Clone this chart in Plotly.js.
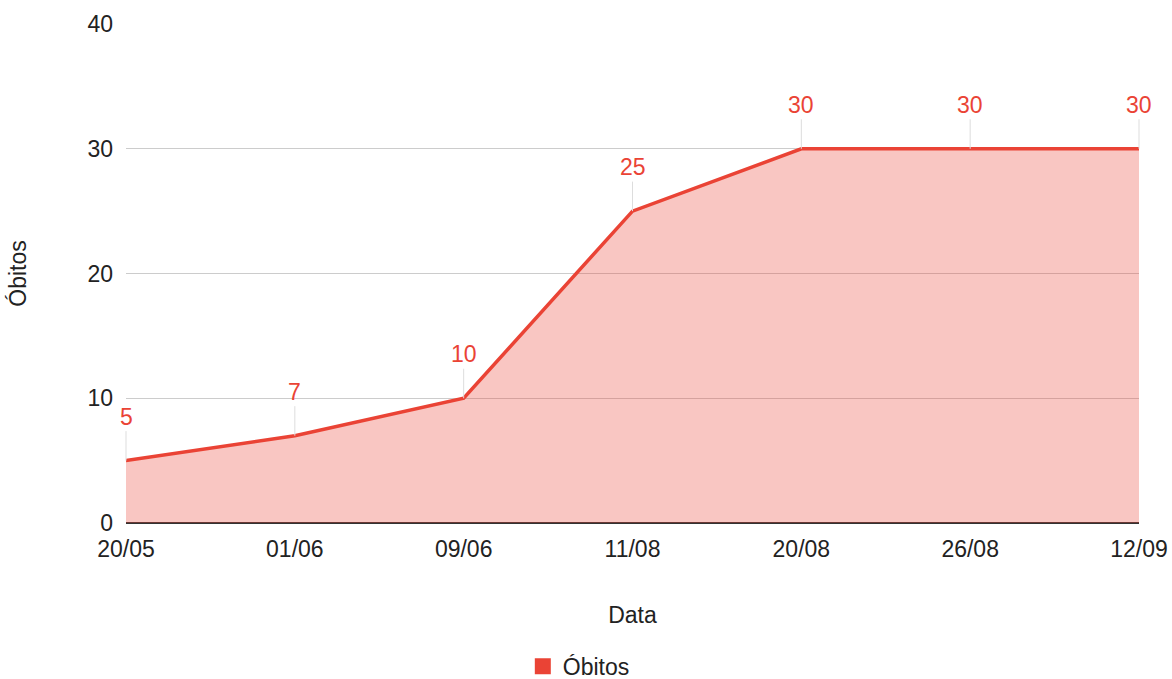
<!DOCTYPE html>
<html>
<head>
<meta charset="utf-8">
<script src="https://cdn.plot.ly/plotly-3.0.1.min.js"></script>
<style>html,body{margin:0;padding:0;background:#fff;}#chart{width:1172px;height:679px;}</style>
</head>
<body>
<div id="chart"></div>
<script>
const categories = ["20/05", "01/06", "09/06", "11/08", "20/08", "26/08", "12/09"];
const obitos = [5, 7, 10, 25, 30, 30, 30];
const yTicks = [0, 10, 20, 30, 40];

const red = "#ea4335";
const font = "'Liberation Sans', Arial, sans-serif";
const fs = 23;

const trace = {
  x: categories,
  y: obitos,
  type: "scatter",
  mode: "lines",
  name: "Óbitos",
  showlegend: false,
  line: {color: red, width: 3.5},
  fill: "tozeroy",
  fillcolor: "rgba(234,67,53,0.3)"
};

const legendTrace = {
  x: [categories[0]],
  y: [null],
  type: "scatter",
  mode: "markers",
  name: "Óbitos",
  marker: {symbol: "square", size: 24, color: red}
};

const annotations = categories.map((c, i) => ({
  x: c, y: obitos[i], xref: "x", yref: "y",
  text: String(obitos[i]),
  showarrow: true, arrowhead: 0, arrowwidth: 1, arrowcolor: "#dddddd",
  ax: 0, ay: -44, standoff: 0,
  font: {family: font, size: fs, color: red}
}));

const layout = {
  width: 1172, height: 679,
  margin: {l: 126, r: 33, t: 24, b: 156, autoexpand: false},
  paper_bgcolor: "#fff", plot_bgcolor: "#fff",
  showlegend: true,
  legend: {orientation: "h", x: 0.447, xanchor: "center", y: -0.287, yanchor: "middle",
           font: {family: font, size: fs, color: "#222"}},
  xaxis: {
    type: "category", range: [0, categories.length - 1],
    showgrid: false, showline: false, zeroline: false, automargin: false,
    ticks: "", ticklabelstandoff: 10, tickfont: {family: font, size: fs, color: "#222"},
    title: {text: "Data", font: {family: font, size: fs, color: "#222"}, standoff: 45}
  },
  yaxis: {
    range: [0, 40], tickvals: yTicks, ticktext: yTicks.map(String),
    showgrid: true, gridcolor: "#cccccc", gridwidth: 1, automargin: false,
    zeroline: true, zerolinecolor: "#333333", zerolinewidth: 2,
    showline: false, ticks: "", ticklabelstandoff: 12,
    tickfont: {family: font, size: fs, color: "#222"},
    title: {text: "Óbitos", font: {family: font, size: fs, color: "#222"}, standoff: 54}
  },
  annotations: annotations
};

Plotly.newPlot("chart", [trace, legendTrace], layout, {displayModeBar: false, staticPlot: true});
</script>
</body>
</html>
